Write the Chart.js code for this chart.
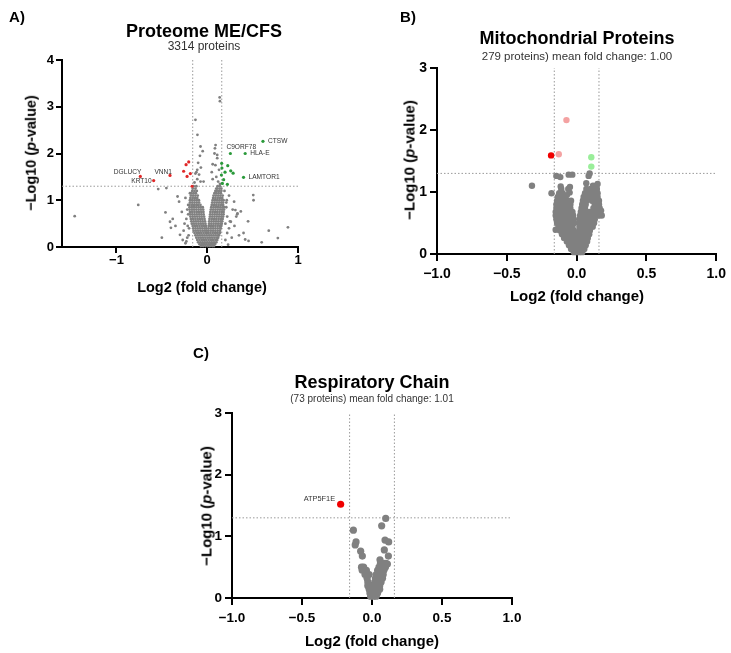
<!DOCTYPE html>
<html><head><meta charset="utf-8">
<script src="https://cdn.jsdelivr.net/npm/chart.js@4.4.1/dist/chart.umd.min.js"></script>
<style>
body{margin:0;background:#fff;width:731px;height:653px;position:relative;overflow:hidden;font-family:"Liberation Sans",Arial,sans-serif;}
canvas{position:absolute;}
.t{position:absolute;transform:translate(-50%,-50%);white-space:nowrap;color:#000;line-height:1;}
.b{font-weight:bold;}
.r{transform:translate(-50%,-50%) rotate(-90deg);}
.s{color:#333;}
</style></head><body>
<canvas id="cA" width="310" height="300" style="left:0;top:0"></canvas>
<canvas id="cB" width="361" height="310" style="left:370px;top:0"></canvas>
<canvas id="cC" width="360" height="323" style="left:180px;top:330px"></canvas>

<div class="t b" style="left:17px;top:16px;font-size:15px">A)</div>
<div class="t b" style="left:204px;top:31px;font-size:18px">Proteome ME/CFS</div>
<div class="t s" style="left:204px;top:46px;font-size:12px">3314 proteins</div>
<div class="t b r" style="left:31px;top:153px;font-size:14.5px">−Log10 (<i>p</i>-value)</div>
<div class="t b" style="left:202px;top:287px;font-size:14.5px">Log2 (fold change)</div>

<div class="t b" style="left:408px;top:16px;font-size:15px">B)</div>
<div class="t b" style="left:577px;top:38px;font-size:18px">Mitochondrial Proteins</div>
<div class="t s" style="left:577px;top:57px;font-size:11.5px">279 proteins) mean fold change: 1.00</div>
<div class="t b r" style="left:409px;top:160px;font-size:15px">−Log10 (<i>p</i>-value)</div>
<div class="t b" style="left:577px;top:295px;font-size:15px">Log2 (fold change)</div>

<div class="t b" style="left:201px;top:352px;font-size:15px">C)</div>
<div class="t b" style="left:372px;top:382px;font-size:18px">Respiratory Chain</div>
<div class="t s" style="left:372px;top:399px;font-size:10px">(73 proteins) mean fold change: 1.01</div>
<div class="t b r" style="left:206px;top:506px;font-size:15px">−Log10 (<i>p</i>-value)</div>
<div class="t b" style="left:372px;top:640px;font-size:15px">Log2 (fold change)</div>

<script>
// ---------- shared thresholds ----------
const fcCut = 0.16;
const pCut = 1.3;

// ---------- Panel A: Proteome ME/CFS ----------
const aXTicks = [-1, 0, 1];
const aYTicks = [0, 1, 2, 3, 4];
const aGeneNames = ['CTSW','C9ORF78','HLA-E','LAMTOR1','DGLUCY','KRT10','VNN1'];
const aGeneX = [0.614, 0.255, 0.418, 0.40, -0.737, -0.59, -0.41];
const aGeneY = [2.26, 2.0, 2.0, 1.49, 1.51, 1.42, 1.53];
const aRedX = [-0.204, -0.233, -0.26, -0.186, -0.222, -0.167];
const aRedY = [1.82, 1.76, 1.62, 1.57, 1.51, 1.30];
const aGreenX = [0.159, 0.162, 0.226, 0.259, 0.285, 0.196, 0.156, 0.181, 0.222, 0.167];
const aGreenY = [1.79, 1.69, 1.74, 1.63, 1.58, 1.60, 1.54, 1.44, 1.34, 1.36];
const aGreyX = [-1.46,-0.76,-0.54,-0.45,-0.327,-0.46,-0.41,-0.40,0.137,0.14,-0.13,-0.108,-0.074,0.092,0.507,0.51,0.678,0.889,0.778,0.418,0.455,0.333,
  -0.2,-0.3,0.31,0.33,0.37,0.26,0.296,0.085,0.11,0.06,-0.11,-0.13,-0.074,-0.14,-0.11,-0.09,-0.12,-0.07,-0.1,-0.08,-0.05,0.12,0.1,0.13,0.09,0.11,0.08,0.06,-0.04,0.14,0.05,
  -0.25,-0.22,-0.28,-0.35,-0.21,-0.24,0.22,0.25,0.28,0.3,0.21,0.24,0.35,0.32,-0.31,-0.23,0.2,-0.19,0.19,
  -0.23,-0.26,-0.215,0.22,0.24,0.21,-0.22,0.27,-0.27,0.23,-0.24,0.4,-0.38,0.45,-0.5,0.6,0.215,-0.21,0.2,-0.205];
const aGreyY = [0.66,0.90,1.24,1.26,1.08,0.74,0.54,0.41,3.20,3.12,2.72,2.40,2.15,2.18,1.11,1.0,0.35,0.42,0.19,0.16,0.13,0.72,
  0.40,0.26,0.79,0.70,0.76,0.54,0.97,2.11,1.97,1.77,1.65,1.57,1.40,1.38,1.45,1.55,1.60,1.70,1.80,1.95,2.05,1.40,1.50,1.65,1.75,1.90,2.0,1.45,1.40,1.35,1.60,
  0.50,0.20,0.75,0.45,0.90,1.05,0.30,0.55,0.80,0.45,0.95,1.10,0.25,0.65,0.97,0.12,0.15,1.15,1.2,
  0.60,0.35,0.45,0.65,0.40,0.85,0.80,0.20,0.15,0.05,0.08,0.30,0.60,0.55,0.20,0.10,1.0,0.7,0.5,0.25];
const aCloudRows = [
  [0.02,[-0.07,-0.045,-0.02,0.005,0.03,0.055,0.075]],
  [0.06,[-0.085,-0.06,-0.035,-0.01,0.015,0.04,0.065,0.085]],
  [0.10,[-0.1,-0.075,-0.05,-0.025,0,0.025,0.05,0.075,0.1]],
  [0.15,[-0.11,-0.085,-0.06,-0.035,-0.01,0.015,0.04,0.065,0.09,0.11]],
  [0.20,[-0.12,-0.095,-0.07,-0.045,-0.02,0.005,0.03,0.055,0.08,0.105,0.12]],
  [0.25,[-0.13,-0.105,-0.08,-0.055,-0.03,-0.005,0.02,0.045,0.07,0.095,0.12,0.13]],
  [0.30,[-0.14,-0.115,-0.09,-0.065,-0.04,-0.015,0.01,0.035,0.06,0.085,0.11,0.135,0.14]],
  [0.35,[-0.15,-0.125,-0.1,-0.075,-0.05,-0.025,-0.005,0.015,0.04,0.065,0.09,0.115,0.14]],
  [0.40,[-0.155,-0.13,-0.105,-0.08,-0.055,-0.03,-0.01,0.015,0.04,0.065,0.09,0.115,0.14,0.15]],
  [0.45,[-0.16,-0.135,-0.11,-0.085,-0.06,-0.035,-0.012,0.018,0.04,0.065,0.09,0.115,0.14,0.155]],
  [0.50,[-0.17,-0.145,-0.12,-0.095,-0.07,-0.045,-0.02,0.02,0.045,0.07,0.095,0.12,0.145,0.16]],
  [0.55,[-0.175,-0.15,-0.125,-0.1,-0.075,-0.05,-0.025,0.022,0.047,0.072,0.097,0.122,0.147,0.165]],
  [0.60,[-0.18,-0.155,-0.13,-0.105,-0.08,-0.055,-0.03,0.025,0.05,0.075,0.1,0.125,0.15,0.17]],
  [0.65,[-0.185,-0.16,-0.135,-0.11,-0.085,-0.06,-0.035,0.03,0.055,0.08,0.105,0.13,0.155,0.175]],
  [0.70,[-0.19,-0.165,-0.14,-0.115,-0.09,-0.065,-0.04,0.033,0.058,0.083,0.108,0.133,0.158,0.18]],
  [0.75,[-0.19,-0.165,-0.14,-0.115,-0.09,-0.065,-0.042,0.035,0.06,0.085,0.11,0.135,0.16,0.18]],
  [0.80,[-0.195,-0.17,-0.145,-0.12,-0.095,-0.07,-0.045,0.04,0.065,0.09,0.115,0.14,0.165,0.185]],
  [0.85,[-0.195,-0.17,-0.145,-0.12,-0.095,-0.072,-0.05,0.045,0.07,0.095,0.12,0.145,0.17,0.185]],
  [0.90,[-0.195,-0.17,-0.145,-0.12,-0.1,-0.075,0.05,0.075,0.1,0.125,0.15,0.175]],
  [0.95,[-0.19,-0.165,-0.14,-0.115,-0.09,0.055,0.08,0.105,0.13,0.155,0.175]],
  [1.00,[-0.19,-0.165,-0.14,-0.115,-0.092,0.06,0.085,0.11,0.135,0.16,0.18]],
  [1.05,[-0.185,-0.16,-0.135,-0.11,0.065,0.09,0.115,0.14,0.165]],
  [1.10,[-0.18,-0.155,-0.13,-0.105,0.07,0.095,0.12,0.145,0.17]],
  [1.15,[-0.175,-0.15,-0.125,0.08,0.1,0.125,0.15]],
  [1.20,[-0.165,-0.14,-0.115,0.09,0.105,0.13,0.155]],
  [1.25,[-0.16,-0.13,0.1,0.11,0.135,0.155]],
  [1.30,[-0.15,-0.12,0.115,0.14]]
];

// ---------- Panel B: Mitochondrial Proteins ----------
const bXTicks = [-1.0, -0.5, 0.0, 0.5, 1.0];
const bYTicks = [0, 1, 2, 3];
const bRedX = [-0.183];
const bRedY = [1.59];
const bPinkX = [-0.128, -0.073];
const bPinkY = [1.61, 2.16];
const bLimeX = [0.105, 0.105];
const bLimeY = [1.56, 1.41];
const bGreyX = [-0.145,-0.117,-0.057,-0.031,0.093,0.086,-0.114,-0.048,-0.32,-0.18,-0.15,0.069,0.117,0.15,-0.05,0.16,0.175,-0.07,0.18];
const bGreyY = [1.26,1.24,1.28,1.28,1.30,1.26,1.09,1.08,1.10,0.98,0.39,1.14,1.10,1.13,0.99,0.80,0.70,0.95,0.62];
const bCloudRows = [
  [0.03,[-0.02,0.0,0.02,0.04]],
  [0.08,[-0.04,-0.015,0.01,0.035,0.055]],
  [0.14,[-0.055,-0.03,-0.005,0.02,0.045,0.065]],
  [0.20,[-0.07,-0.045,-0.02,0.005,0.03,0.055,0.075]],
  [0.26,[-0.09,-0.065,-0.04,-0.015,0.01,0.035,0.06,0.08]],
  [0.32,[-0.105,-0.08,-0.055,-0.03,-0.005,0.02,0.045,0.07,0.09]],
  [0.38,[-0.12,-0.095,-0.07,-0.045,-0.02,0.02,0.045,0.07,0.095]],
  [0.44,[-0.13,-0.105,-0.08,-0.055,-0.03,0.02,0.045,0.07,0.095,0.115]],
  [0.50,[-0.14,-0.115,-0.09,-0.065,-0.04,-0.018,0.02,0.045,0.07,0.1,0.125]],
  [0.56,[-0.145,-0.12,-0.095,-0.07,-0.045,-0.02,0.022,0.05,0.08,0.105,0.13]],
  [0.62,[-0.15,-0.125,-0.1,-0.075,-0.05,-0.025,0.025,0.05,0.085,0.11,0.135,0.16]],
  [0.68,[-0.15,-0.125,-0.1,-0.075,-0.05,-0.03,0.03,0.055,0.09,0.115,0.14,0.165]],
  [0.74,[-0.145,-0.12,-0.095,-0.07,-0.045,0.035,0.06,0.12,0.145,0.165]],
  [0.80,[-0.145,-0.12,-0.095,-0.07,-0.045,0.04,0.065,0.13,0.155]],
  [0.86,[-0.14,-0.115,-0.09,-0.065,-0.04,0.045,0.07,0.11,0.14,0.16]],
  [0.92,[-0.135,-0.11,-0.085,0.05,0.075,0.1,0.125,0.15]],
  [0.98,[-0.125,-0.1,0.06,0.085,0.12,0.15]],
  [1.05,[-0.11,-0.06,0.07,0.1,0.125,0.145]]
];

// ---------- Panel C: Respiratory Chain ----------
const cXTicks = [-1.0, -0.5, 0.0, 0.5, 1.0];
const cYTicks = [0, 1, 2, 3];
const cGeneNames = ['ATP5F1E'];
const cGeneX = [-0.224];
const cGeneY = [1.52];
const cGreyX = [0.098,0.069,-0.133,0.093,0.119,-0.114,-0.12,-0.081,-0.069,0.088,0.117,0.057,0.11,0.093];
const cGreyY = [1.29,1.17,1.10,0.94,0.91,0.91,0.86,0.76,0.68,0.78,0.68,0.62,0.55,0.50];
const cCloudRows = [
  [0.03,[-0.01,0.01,0.03]],
  [0.08,[-0.015,0.005,0.025,0.04]],
  [0.14,[-0.02,0.0,0.02,0.04,0.055]],
  [0.20,[-0.03,-0.005,0.015,0.035,0.055]],
  [0.26,[-0.03,0.02,0.045,0.065]],
  [0.32,[-0.035,0.025,0.05,0.075]],
  [0.38,[-0.05,-0.02,0.03,0.055,0.08]],
  [0.45,[-0.07,-0.04,0.04,0.065,0.085]],
  [0.50,[-0.075,-0.06,0.05,0.075,0.095]],
  [0.56,[0.06,0.085,0.1]]
];

// ---------- helpers ----------
const zip = (xs, ys) => xs.map((x, i) => ({x, y: ys[i]}));
const rows = r => { const p = []; r.forEach(([y, xs]) => xs.forEach(x => p.push({x, y}))); return p; };
const FONT = '"Liberation Sans", Arial, sans-serif';

function cutLines(xMin, xMax, yMax) {
  const st = {type:'scatter', showLine:true, pointRadius:0, borderColor:'#9a9a9a', borderWidth:1, borderDash:[1.5,2], order:5, clip:false};
  return [
    Object.assign({data:[{x:-fcCut,y:0},{x:-fcCut,y:yMax}]}, st),
    Object.assign({data:[{x:fcCut,y:0},{x:fcCut,y:yMax}]}, st),
    Object.assign({data:[{x:xMin,y:pCut},{x:xMax,y:pCut}]}, st)
  ];
}

const labelPlugin = {
  id: 'genes',
  afterDatasetsDraw(chart, args, opts) {
    if (!opts || !opts.names) return;
    const ctx = chart.ctx, xs = chart.scales.x, ys = chart.scales.y;
    ctx.save();
    ctx.fillStyle = '#333';
    ctx.font = opts.size + 'px ' + FONT;
    ctx.textBaseline = 'middle';
    opts.names.forEach((n, i) => {
      const px = xs.getPixelForValue(opts.x[i]), py = ys.getPixelForValue(opts.y[i]);
      const pl = opts.place[n];
      ctx.textAlign = pl[0];
      ctx.fillText(n, px + pl[1], py + pl[2]);
    });
    ctx.restore();
  }
};

function makeChart(id, cfg) {
  const axis = (min, max, ticks, fit) => ({
    type:'linear', min, max,
    afterBuildTicks: s => { s.ticks = ticks.map(v => ({value:v})); },
    afterFit: fit,
    grid:{drawOnChartArea:false, drawTicks:true, tickLength:cfg.tickLen, color:'#000', lineWidth:2},
    border:{color:'#000', width:2},
    ticks:{color:'#000', font:{family:FONT, size:cfg.tickSize, weight:'bold'}, padding:cfg.tickPad,
      callback: v => (cfg.dec ? v.toFixed(1) : String(v)).replace('-', '\u2212')}
  });
  return new Chart(document.getElementById(id), {
    type:'scatter',
    data:{datasets: cfg.datasets},
    options:{
      responsive:false, animation:false, devicePixelRatio:1,
      layout:{padding:cfg.padding},
      plugins:{legend:{display:false}, tooltip:{enabled:false}, genes: cfg.genes || {}},
      scales:{
        x: axis(cfg.xMin, cfg.xMax, cfg.xTicks, s => { s.height = cfg.xH; }),
        y: Object.assign(axis(cfg.yMin, cfg.yMax, cfg.yTicks, s => { s.width = cfg.yW; }), {ticks:{color:'#000', font:{family:FONT, size:cfg.tickSize, weight:'bold'}, padding:cfg.yPad}})
      }
    },
    plugins:[labelPlugin]
  });
}

const pt = (data, color, r, order) => ({data, backgroundColor:color, borderWidth:0, pointRadius:r, pointHoverRadius:r, order, clip:false});

// Panel A
makeChart('cA', {
  xMin:-1.6, xMax:1.0, yMin:0, yMax:4, xTicks:aXTicks, yTicks:aYTicks,
  padding:{left:0, top:60, right:12, bottom:0}, yW:62, xH:53,
  tickLen:6, tickPad:0, yPad:2, tickSize:13, dec:false,
  datasets:[
    pt(zip(aGeneX.slice(0,4), aGeneY.slice(0,4)).concat(zip(aGreenX, aGreenY)), '#2a9a3a', 1.6, 0),
    pt(zip(aGeneX.slice(4), aGeneY.slice(4)).concat(zip(aRedX, aRedY)), '#e02828', 1.6, 0),
    pt(rows(aCloudRows).concat(zip(aGreyX, aGreyY)), '#808080', 1.4, 1),
    ...cutLines(-1.6, 1.0, 4)
  ],
  genes:{names:aGeneNames, x:aGeneX, y:aGeneY, size:6.6,
    place:{CTSW:['left',5,0], 'C9ORF78':['left',-4,-6.5], 'HLA-E':['left',5,0], LAMTOR1:['left',5,0],
           DGLUCY:['right',1,-4], KRT10:['right',-2,1], VNN1:['right',2,-3]}}
});

// Panel B
makeChart('cB', {
  xMin:-1, xMax:1, yMin:0, yMax:3, xTicks:bXTicks, yTicks:bYTicks,
  padding:{left:0, top:68, right:13, bottom:0}, yW:67, xH:56,
  tickLen:7, tickPad:5, yPad:3, tickSize:14, dec:true,
  datasets:[
    pt(zip(bRedX, bRedY), '#f00000', 3.2, 0),
    pt(zip(bPinkX, bPinkY), '#f4a2a2', 3.2, 0),
    pt(zip(bLimeX, bLimeY), '#9aee9a', 3.2, 0),
    pt(rows(bCloudRows).concat(zip(bGreyX, bGreyY)), '#808080', 3.2, 1),
    ...cutLines(-1, 1, 3)
  ]
});

// Panel C
makeChart('cC', {
  xMin:-1, xMax:1, yMin:0, yMax:3, xTicks:cXTicks, yTicks:cYTicks,
  padding:{left:0, top:83, right:28, bottom:0}, yW:52, xH:55,
  tickLen:7, tickPad:5, yPad:3, tickSize:13.5, dec:true,
  datasets:[
    pt(zip(cGeneX, cGeneY), '#f00000', 3.6, 0),
    pt(rows(cCloudRows).concat(zip(cGreyX, cGreyY)), '#808080', 3.6, 1),
    ...cutLines(-1, 1, 3)
  ],
  genes:{names:cGeneNames, x:cGeneX, y:cGeneY, size:7.4, place:{ATP5F1E:['right',-5.5,-5]}}
});
</script>
</body></html>
